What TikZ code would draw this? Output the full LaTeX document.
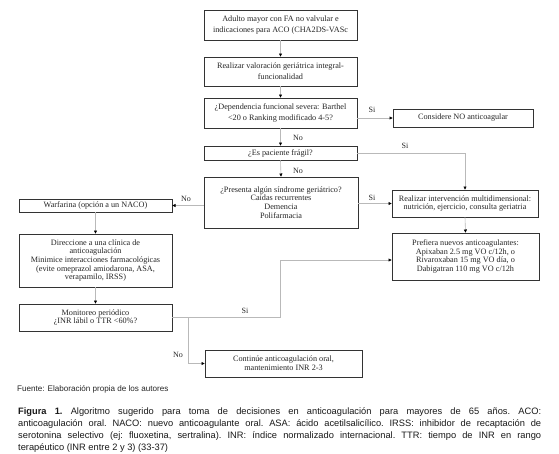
\documentclass[tikz,border=0pt]{standalone}
\usepackage{fontspec}
\setmainfont{Liberation Serif}
\newfontfamily\capfont{Liberation Sans}
\usetikzlibrary{arrows.meta}
\begin{document}
\begin{tikzpicture}[x=1pt,y=-1pt,
  box/.style={draw=black!80, line width=0.6pt, align=center, inner sep=0pt,
    font=\fontsize{8.2}{8.7}\selectfont, text=black!85},
  loose/.style={font=\fontsize{8.2}{11}\selectfont},
  conn/.style={draw=gray!55, line width=0.6pt, -{Triangle[length=3.2pt,width=3pt,color=black]}},
  lab/.style={inner sep=0pt, font=\fontsize{8}{8}\selectfont, text=black!85}
]
\useasboundingbox[fill=white] (0,0) rectangle (559,453);

\node[box, loose, minimum width=153pt, minimum height=30pt] (b1) at (280.5,25)
  {Adulto mayor con FA no valvular e\\indicaciones para ACO (CHA2DS-VASc};
\node[box, loose, minimum width=153pt, minimum height=29pt] (b2) at (280.5,71.5)
  {Realizar valoración geriátrica integral-\\funcionalidad};
\node[box, loose, minimum width=153pt, minimum height=30pt] (b3) at (280.5,113)
  {¿Dependencia funcional severa: Barthel\\<20 o Ranking modificado 4-5?};
\node[box, minimum width=140pt, minimum height=18pt] (nocoag) at (463,118)
  {Considere NO anticoagular};
\node[box, minimum width=153pt, minimum height=14pt] (b4) at (280.5,153)
  {¿Es paciente frágil?};
\node[box, minimum width=154pt, minimum height=51pt] (b5) at (281,202.5)
  {¿Presenta algún síndrome geriátrico?\\Caídas recurrentes\\Demencia\\Polifarmacia};
\node[box, minimum width=153pt, minimum height=13pt] (warf) at (95.5,205.5)
  {Warfarina (opción a un NACO)};
\node[box, minimum width=153pt, minimum height=53pt] (dir) at (95.5,260.5)
  {Direccione a una clínica de\\anticoagulación\\Minimice interacciones farmacológicas\\(evite omeprazol amiodarona, ASA,\\verapamilo, IRSS)};
\node[box, minimum width=153pt, minimum height=27pt] (mon) at (95.5,317.5)
  {Monitoreo periódico\\¿INR lábil o TTR <60\%?};
\node[box, minimum width=157pt, minimum height=27pt] (cont) at (283.5,363.5)
  {Continúe anticoagulación oral,\\mantenimiento INR 2-3};
\node[box, minimum width=146pt, minimum height=27pt] (interv) at (465,203.5)
  {Realizar intervención multidimensional:\\nutrición, ejercicio, consulta geriatria};
\node[box, minimum width=147pt, minimum height=47pt] (pref) at (465.5,256.5)
  {Prefiera nuevos anticoagulantes:\\Apixaban 2.5 mg VO c/12h, o\\Rivaroxaban 15 mg VO día, o\\Dabigatran 110 mg VO c/12h};

\draw[conn] (b1.south) -- (b2.north);
\draw[conn] (b2.south) -- (b3.north);
\draw[conn] (b3.east |- nocoag.west) -- (nocoag.west);
\draw[conn] (b3.south) -- (b4.north);
\draw[conn] (b4.east) -| (interv.north);
\draw[conn] (b4.south) -- (b5.north);
\draw[conn] (b5.west |- warf.east) -- (warf.east);
\draw[conn] (b5.east |- interv.west) -- (interv.west);
\draw[conn] (interv.south) -- (pref.north);
\draw[conn] (warf.south) -- (dir.north);
\draw[conn] (dir.south) -- (mon.north);
\draw[conn] (mon.east) -- (mon.east -| b1.south) |- ([yshift=-3.5pt]pref.west);
\coordinate (n1) at (188,317.5);
\draw[conn] (n1) |- (cont.west);

\node[lab] (l1) at (372,110) {Si};
\node[lab] (l2) at (298,138) {No};
\node[lab] (l3) at (298,171) {No};
\node[lab] (l4) at (405,146) {Si};
\node[lab] (l5) at (186,199) {No};
\node[lab] (l6) at (372,198) {Si};
\node[lab] (l7) at (245,311) {Si};
\node[lab] (l8) at (178,355) {No};

\node[anchor=base west, inner sep=0pt, font=\capfont\fontsize{8.1}{8}\selectfont, text=black!85] (src) at (17,391)
  {Fuente: Elaboración propia de los autores};
\node[anchor=base west, inner sep=0pt, text width=523pt, align=justify,
  font=\capfont\frenchspacing\fontsize{9.3}{12}\selectfont, text=black!90] (cap) at (18,414)
  {\textbf{Figura 1.} Algoritmo sugerido para toma de decisiones en anticoagulación para mayores de 65 años. ACO:\linebreak
  anticoagulación oral. NACO: nuevo anticoagulante oral. ASA: ácido acetilsalicílico. IRSS: inhibidor de recaptación de\linebreak
  serotonina selectivo (ej: fluoxetina, sertralina). INR: índice normalizado internacional. TTR: tiempo de INR en rango\linebreak
  terapéutico (INR entre 2 y 3) (33-37)};
\end{tikzpicture}
\end{document}
